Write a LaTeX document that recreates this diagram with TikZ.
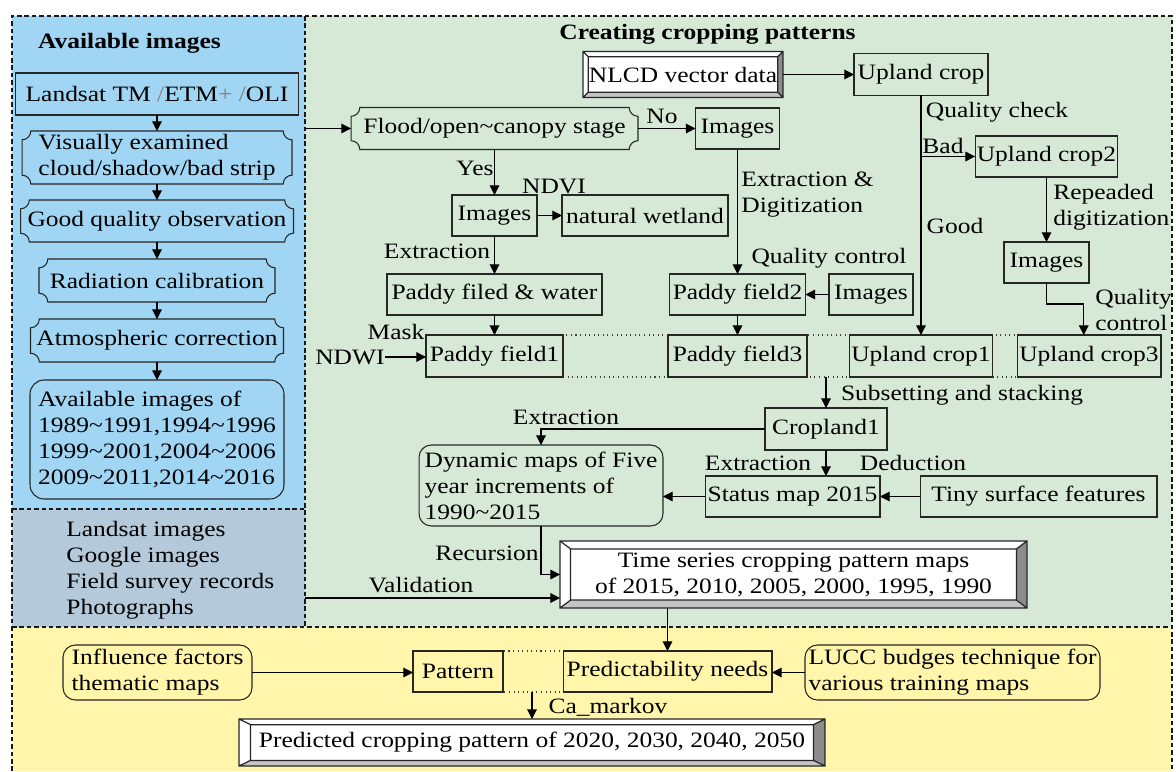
\documentclass[tikz,border=0pt]{standalone}
\usepackage{fontspec}
\setmainfont{Liberation Serif}[FakeStretch=1.16]
\usepackage{tikz}
\usetikzlibrary{arrows.meta,calc}
\definecolor{panelblue}{RGB}{160,213,243}
\definecolor{panelgray}{RGB}{180,201,217}
\definecolor{panelgreen}{RGB}{214,232,214}
\definecolor{panelyellow}{RGB}{255,246,172}
\definecolor{bevdark}{RGB}{140,140,140}
\definecolor{bevlight}{RGB}{196,196,196}

% box with concave corners
\newcommand{\notchr}{5pt}
\newcommand{\notchframe}[1]{%
  \draw[boxline] ($(#1.north west)+(\notchr,0)$) -- ($(#1.north east)+(-\notchr,0)$)
    arc[start angle=180, end angle=270, radius=\notchr]
    -- ($(#1.south east)+(0,\notchr)$)
    arc[start angle=90, end angle=180, radius=\notchr]
    -- ($(#1.south west)+(\notchr,0)$)
    arc[start angle=0, end angle=90, radius=\notchr]
    -- ($(#1.north west)+(0,-\notchr)$)
    arc[start angle=270, end angle=360, radius=\notchr] -- cycle;}
% bevelled frame: node, side bevel, top/bottom bevel
\newcommand{\bevelframe}[3]{%
  \coordinate (bvA) at ($(#1.north west)+(#2,-#3)$);
  \coordinate (bvB) at ($(#1.south east)+(-#2,#3)$);
  \fill[bevdark] (#1.north east) -- (#1.south east) -- (bvB) -- (bvA -| bvB) -- cycle;
  \fill[bevlight] (#1.south west) -- (#1.south east) -- (bvB) -- (bvA |- bvB) -- cycle;
  \draw[boxline, line width=0.7pt] (#1.north west) rectangle (#1.south east) (bvA) rectangle (bvB)
    (#1.north west) -- (bvA) (#1.north east) -- (bvA -| bvB)
    (#1.south east) -- (bvB) (#1.south west) -- (bvA |- bvB);}

\begin{document}
\begin{tikzpicture}[x=0.02cm, y=-0.02cm,
        font=\fontsize{12.5}{14.8}\selectfont,
        boxline/.style={draw=black!85, line width=0.6pt},
        stepbox/.style={boxline, inner sep=1pt, outer sep=0pt, align=center, minimum height=0.82cm},
        notched/.style={inner sep=1pt, outer sep=0pt, align=center, minimum height=0.84cm},
        roundbox/.style={boxline, rounded corners=7pt, inner sep=2pt, outer sep=0pt, align=left},
        bevelled/.style={fill=white, inner sep=1pt, outer sep=0pt, align=center},
        grpbox/.style={draw=black!75, dotted, line width=0.6pt, outer sep=0pt},
        tag/.style={inner sep=0pt, align=left},
        heading/.style={inner sep=0pt, font=\fontsize{12.5}{14.8}\selectfont\bfseries},
        link/.style={-{Triangle[length=5.5pt,width=5.5pt]}, line width=0.6pt, black},
        panelline/.style={draw=black!90, line width=1.1pt, dash pattern=on 2.6pt off 1.6pt}
    ]
        \useasboundingbox (0,0) rectangle (1176,771);

        % panels
        \fill[panelblue] (12,16) rectangle (305,509);
        \fill[panelgray] (12,509) rectangle (305,627);
        \fill[panelgreen] (305,16) rectangle (1172,627);
        \fill[panelyellow] (12,627) rectangle (1172,771);
        \draw[panelline] (12,771) -- (12,16) -- (1172,16) -- (1172,771);
        \draw[panelline] (305,16) -- (305,627);
        \draw[panelline] (12,509) -- (305,509);
        \draw[panelline] (12,627) -- (1172,627);

        % available images
        \node[heading] (titleA) at (129.5,43) {Available images};
        \node[stepbox, minimum width=5.66cm, minimum height=0.84cm] (landsat) at (157,94) {Landsat TM \textcolor{gray}{/}ETM\textcolor{gray}{+} \textcolor{gray}{/}OLI};
        \node[notched, align=left, minimum width=5.4cm, minimum height=1.06cm] (visual) at (157,157.5) {Visually examined\\cloud/shadow/bad strip};
        \node[notched, minimum width=5.46cm] (goodq) at (157,221) {Good quality observation};
        \node[notched, minimum width=4.72cm, minimum height=0.86cm] (radiation) at (157,280.5) {Radiation calibration};
        \node[notched, minimum width=5.06cm, minimum height=0.86cm] (atmos) at (157,340.5) {Atmospheric correction};
        \node[roundbox, rounded corners=8pt, minimum width=5.08cm, minimum height=2.38cm] (avail) at (157,439.5) {Available images of\\1989\textasciitilde1991,1994\textasciitilde1996\\1999\textasciitilde2001,2004\textasciitilde2006\\2009\textasciitilde2011,2014\textasciitilde2016};
        \node[tag, anchor=west] (refsrc) at (66,570) {Landsat images\\Google images\\Field survey records\\Photographs};
        \coordinate (imgout) at (305,128.5);
        \coordinate (valout) at (305,598);

        % creating cropping patterns
        \node[heading] (titleB) at (707.5,34) {Creating cropping patterns};
        \node[bevelled, minimum width=4cm, minimum height=0.92cm] (nlcd) at (683,74.5) {NLCD vector data};
        \node[stepbox, minimum width=2.68cm, minimum height=0.84cm] (upland) at (921,74.5) {Upland crop};
        \node[notched, minimum width=5.74cm] (flood) at (494.5,128.5) {Flood/open\textasciitilde canopy stage};
        \node[stepbox, minimum width=1.68cm] (img1) at (737.5,128.5) {Images};
        \node[stepbox, minimum width=1.7cm] (img2) at (494.5,215.5) {Images};
        \node[stepbox, minimum width=3.32cm] (wetland) at (645,215.5) {natural wetland};
        \node[stepbox, minimum width=4.3cm] (paddyw) at (494.5,294.5) {Paddy filed \& water};
        \node[grpbox, minimum width=14.7cm, minimum height=0.84cm] (cropgrp) at (793.5,356) {};
        \node[stepbox, minimum width=2.74cm, minimum height=0.84cm] (paddy1) at (494.5,356) {Paddy field1};
        \node[stepbox, minimum width=2.72cm] (paddy2) at (737.5,294.5) {Paddy field2};
        \node[stepbox, minimum width=1.68cm] (img3) at (871,294.5) {Images};
        \node[stepbox, minimum width=2.78cm, minimum height=0.84cm] (paddy3) at (737.5,356) {Paddy field3};
        \node[stepbox, minimum width=2.84cm] (upland2) at (1046.5,156.5) {Upland crop2};
        \node[stepbox, minimum width=1.7cm] (img4) at (1046.5,262.5) {Images};
        \node[stepbox, minimum width=2.86cm, minimum height=0.84cm] (upland1) at (921,356) {Upland crop1};
        \node[stepbox, minimum width=2.88cm, minimum height=0.84cm] (upland3) at (1089,356) {Upland crop3};
        \node[tag] (ndwi) at (350,357) {NDWI};
        \node[stepbox, minimum width=2.44cm, minimum height=0.84cm] (cropland1) at (826,429) {Cropland1};
        \node[stepbox, minimum width=3.5cm] (status) at (792.5,496.5) {Status map 2015};
        \node[stepbox, minimum width=4.74cm] (tiny) at (1038.5,496.5) {Tiny surface features};
        \node[roundbox, minimum width=4.88cm, minimum height=1.62cm] (dynamic) at (541,485.5) {Dynamic maps of Five\\year increments of\\1990\textasciitilde2015};
        \node[bevelled, minimum width=9.34cm, minimum height=1.34cm] (timeser) at (793.5,574.5) {Time series cropping pattern maps\\of 2015, 2010, 2005, 2000, 1995, 1990};

        % prediction
        \node[grpbox, minimum width=7.18cm, minimum height=0.82cm] (ygrp) at (592.5,671.5) {};
        \node[roundbox, minimum width=3.78cm, minimum height=1.1cm] (influence) at (157.5,672.5) {Influence factors\\thematic maps};
        \node[stepbox, minimum width=1.8cm] (pattern) at (458,671.5) {Pattern};
        \node[stepbox, minimum width=4.18cm] (predict) at (667.5,671.5) {Predictability needs};
        \node[roundbox, minimum width=5.9cm, minimum height=1.1cm] (lucc) at (952.5,672.5) {LUCC budges technique for\\various training maps};
        \node[bevelled, minimum width=11.72cm, minimum height=0.94cm] (predicted) at (532,742.5) {Predicted cropping pattern of 2020, 2030, 2040, 2050};

        % frames
        \notchframe{visual} \notchframe{goodq} \notchframe{radiation} \notchframe{atmos} \notchframe{flood}
        \bevelframe{nlcd}{3pt}{3pt}
        \bevelframe{timeser}{6pt}{4.5pt}
        \bevelframe{predicted}{6.5pt}{3.2pt}

        % connectors
        \draw[link] (landsat) -- (visual);
        \draw[link] (visual) -- (goodq);
        \draw[link] (goodq) -- (radiation);
        \draw[link] (radiation) -- (atmos);
        \draw[link] (atmos) -- (avail);
        \draw[link] (imgout) -- (imgout -| flood.west);
        \draw[link] (flood) -- (img1);
        \draw[link] (flood) -- (img2);
        \draw[link] (img2) -- (wetland);
        \draw[link] (img2) -- (paddyw);
        \draw[link] (paddyw) -- (paddy1);
        \draw[link] (ndwi.east) -- (ndwi.east -| paddy1.west);
        \draw[link] (nlcd) -- (upland);
        \draw[link] (img1) -- (paddy2);
        \draw[link] (img3) -- (paddy2);
        \draw[link] (paddy2) -- (paddy3);
        \draw[link] (upland) -- (upland1);
        \draw[link] (upland.south |- upland2.west) -- (upland2.west);
        \draw[link] (upland2) -- (img4);
        \draw[link] (img4.south) -- ++(0,21) -| ([xshift=-3pt]upland3.north);
        \draw[link] (cropgrp.south -| cropland1.north) -- (cropland1.north);
        \draw[link] (cropland1.west) -| (dynamic.north);
        \draw[link] (cropland1.south) -- (cropland1.south |- status.north);
        \draw[link] (tiny) -- (status);
        \draw[link] (status.west) -- (status.west -| dynamic.east);
        \draw[link] (dynamic.south) |- (timeser.west);
        \draw[link] (valout) -- (valout -| timeser.west);
        \draw[link] (predict.north |- timeser.south) -- (predict.north);
        \draw[link] (influence.east) -- (influence.east -| pattern.west);
        \draw[link] (lucc.west) -- (lucc.west -| predict.east);
        \draw[link] (ygrp.south -| predicted.north) -- (predicted.north);

        % labels
        \node[tag] (lno) at (662,116) {No};
        \node[tag] (lyes) at (475,168) {Yes};
        \node[tag] (lndvi) at (554,186) {NDVI};
        \node[tag] (lext1) at (437,251) {Extraction};
        \node[tag] (lmask) at (396,332) {Mask};
        \node[tag, anchor=west] (ldigit) at (741,194.5) {Extraction \&\\Digitization};
        \node[tag] (lqc1) at (829,258) {Quality control};
        \node[tag] (lqcheck) at (997,112) {Quality check};
        \node[tag] (lbad) at (943,146) {Bad};
        \node[tag] (lgood) at (955,226) {Good};
        \node[tag, anchor=west] (lrepeat) at (1053,207.5) {Repeaded\\digitization};
        \node[tag, anchor=west] (lqc2) at (1095,309.5) {Quality\\control};
        \node[tag] (lsubset) at (962,395) {Subsetting and stacking};
        \node[tag] (lext2) at (566,417) {Extraction};
        \node[tag] (lext3) at (758,463) {Extraction};
        \node[tag] (ldeduct) at (913,463) {Deduction};
        \node[tag] (lrecur) at (487,553) {Recursion};
        \node[tag] (lvalid) at (421,585) {Validation};
        \node[tag] (lmarkov) at (608,707) {Ca\_markov};

    \end{tikzpicture}
\end{document}
